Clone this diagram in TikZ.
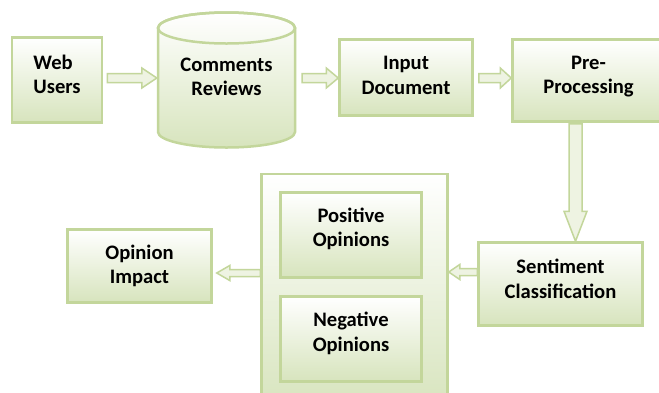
\documentclass[tikz,border=0pt]{standalone}
\usepackage{fontspec}
\setmainfont{Carlito}
\usetikzlibrary{calc}
\definecolor{gB}{HTML}{C3D69B}
\definecolor{gF}{HTML}{D7E4BD}
\definecolor{gL}{HTML}{EEF3E2}
\tikzset{
  box/.style={draw=gB, line width=2.5pt, top color=white, bottom color=gF, inner sep=0pt},
  txt/.style={font=\fontsize{20.6}{24.5}\selectfont\bfseries, align=center, text=black},
  barrow/.style={draw=gB, line width=1.5pt, fill=gL, line join=miter},
}
\newcommand\blockarrow[5]{%
  \coordinate (ba-h) at ($(#2)!#5!(#1)$);
  \draw[barrow] ($(#1)!#3!90:(#2)$) -- ($(ba-h)!#3!90:(#2)$) -- ($(ba-h)!#4!90:(#2)$) -- (#2)
    -- ($(ba-h)!#4!-90:(#2)$) -- ($(ba-h)!#3!-90:(#2)$) -- ($(#1)!#3!-90:(#2)$) -- cycle;
}
\begin{document}
\begin{tikzpicture}[x=1pt,y=1pt]
\useasboundingbox (0,0) rectangle (659,-392);
\clip (0,0) rectangle (659,-392);
\fill[white] (0,0) rectangle (659,-392);

% top row
\node[box, minimum width=90, minimum height=85,
  label={[txt, align=left, yshift=5.5]center:{Web\\Users}}] (web) at (57,-80) {};

% cylinder
\node[minimum width=139, minimum height=136, inner sep=0pt] (cyl) at (226.5,-80) {};
\draw[box] (158,-28) -- (158,-132) arc[start angle=180,end angle=360,x radius=68.5,y radius=15.5]
  -- (295,-28) arc[start angle=0,end angle=180,x radius=68.5,y radius=15.5] -- cycle;
\draw[draw=gB, line width=2.5pt] (226.5,-28) ellipse[x radius=68.5, y radius=15.5];
\node[txt] (cyltext) at (226.5,-77) {Comments\\Reviews};

\node[box, minimum width=133, minimum height=76,
  label={[txt, yshift=2]center:{Input\\Document}}] (input) at (406,-77.5) {};
\node[box, minimum width=152, minimum height=82,
  label={[txt, yshift=4]center:{Pre-\\Processing}}] (pre) at (588.5,-80.5) {};

% lower part
\node[box, minimum width=164, minimum height=83,
  label={[txt, yshift=5]center:{Sentiment\\Classification}}] (sent) at (560.5,-284) {};
\node[box, minimum width=186, minimum height=236] (cont) at (354.5,-292) {};
\node[box, minimum width=141, minimum height=85,
  label={[txt, yshift=6]center:{Positive\\Opinions}}] (pos) at (351,-235) {};
\node[box, minimum width=141, minimum height=85,
  label={[txt, yshift=5.5]center:{Negative\\Opinions}}] (neg) at (351,-339) {};
\node[box, minimum width=144, minimum height=73,
  label={[txt]center:{Opinion\\Impact}}] (impact) at (139.5,-266) {};

% arrows
\coordinate (a1s) at ($(web.east)+(4,2)$);
\coordinate (a1e) at (cyl.west |- a1s);
\blockarrow{a1s}{a1e}{4.5pt}{10pt}{15pt}
\coordinate (a2s) at ($(cyl.east)+(6,2)$);
\coordinate (a2e) at (input.west |- a2s);
\blockarrow{a2s}{a2e}{4.5pt}{10pt}{12pt}
\coordinate (a3s) at ($(input.east)+(5,-0.5)$);
\coordinate (a3e) at (pre.west |- a3s);
\blockarrow{a3s}{a3e}{4.5pt}{10pt}{11pt}
\coordinate (a4s) at ($(pre.south)+(-13,-1)$);
\coordinate (a4e) at (a4s |- sent.north);
\blockarrow{a4s}{a4e}{6.5pt}{11.5pt}{30pt}
\coordinate (a5s) at ($(sent.west)+(0,12)$);
\coordinate (a5e) at (cont.east |- a5s);
\blockarrow{a5s}{a5e}{3.5pt}{7.5pt}{11pt}
\coordinate (a6e) at ($(impact.east)+(4,-7)$);
\coordinate (a6s) at (cont.west |- a6e);
\blockarrow{a6s}{a6e}{3.5pt}{7.5pt}{13pt}
\end{tikzpicture}
\end{document}
